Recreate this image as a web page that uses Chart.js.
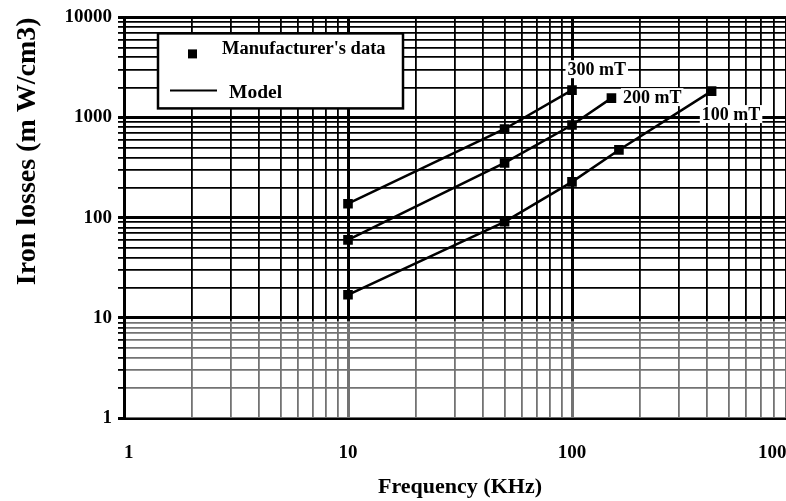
<!DOCTYPE html>
<html>
<head>
<meta charset="utf-8">
<title>Iron losses</title>
<script src="https://cdn.jsdelivr.net/npm/chart.js@4.4.1/dist/chart.umd.min.js"></script>
<style>
html, body { margin: 0; padding: 0; background: #fff; overflow: hidden; }
#area { width: 840px; height: 501px; }
</style>
</head>
<body>
<div id="area"><canvas id="meuGrafico" width="840" height="501"></canvas></div>
<script>
// Dados (frequência em KHz, perdas em mW/cm3)
var freq300 = [10, 50, 100];
var perdas300 = [138, 769, 1878];
var freq200 = [10, 50, 100, 150];
var perdas200 = [60, 352, 842, 1563];
var freq100 = [10, 50, 100, 162, 420];
var perdas100 = [17, 91, 228, 475, 1835];

// Rótulos das curvas e onde ficam (em coordenadas dos dados)
var rotulos = ['300 mT', '200 mT', '100 mT'];
var rotulosX = [129, 228, 513];
var rotulosY = [3040, 1600, 1083];

// Décadas dos eixos
var decadasX = [1, 10, 100, 1000];
var decadasY = [1, 10, 100, 1000, 10000];

var fonte = "'Liberation Serif', 'Times New Roman', serif";

// Junta x e y em pontos
function montarPontos(xs, ys) {
    return xs.map(function(x, i) {
        return { x: x, y: ys[i] };
    });
}

// Gera os ticks 1,2,...,9,10,20,... entre as décadas
function gerarTicks(decadas) {
    var ticks = [];
    for (var d = 0; d < decadas.length - 1; d++) {
        for (var k = 1; k < 10; k++) {
            ticks.push({ value: decadas[d] * k });
        }
    }
    ticks.push({ value: decadas[decadas.length - 1] });
    return ticks;
}

function eDecada(v) {
    var l = Math.log10(v);
    return Math.abs(l - Math.round(l)) < 1e-9;
}

function larguraGrade(ctx) {
    if (!ctx.tick) return 1.8;
    return eDecada(ctx.tick.value) ? 3 : 1.8;
}

// Plugin para o fundo clareado, os rótulos das curvas e a legenda
var pluginExtras = {
    id: 'extras',
    beforeDatasetsDraw: function(chart) {
        var c = chart.ctx;
        var a = chart.chartArea;
        var y10 = chart.scales.y.getPixelForValue(10);
        c.save();
        c.fillStyle = 'rgba(255,255,255,0.45)';
        c.fillRect(a.left + 2, y10 + 3, a.right - a.left, a.bottom - y10 - 3);
        c.restore();
    },
    afterDatasetsDraw: function(chart) {
        var c = chart.ctx;
        var sx = chart.scales.x;
        var sy = chart.scales.y;
        var a = chart.chartArea;
        c.save();
        c.font = 'bold 18px ' + fonte;
        c.textAlign = 'center';
        c.textBaseline = 'middle';
        for (var i = 0; i < rotulos.length; i++) {
            var px = sx.getPixelForValue(rotulosX[i]);
            var py = sy.getPixelForValue(rotulosY[i]);
            var w = c.measureText(rotulos[i]).width;
            c.fillStyle = '#fff';
            c.fillRect(px - w / 2 - 2, py - 9, w + 4, 18);
            c.fillStyle = '#000';
            c.fillText(rotulos[i], px, py + 1);
        }

        // Legenda dentro da área do gráfico
        var lx = a.left + 34;
        var ly = a.top + 16;
        c.fillStyle = '#fff';
        c.fillRect(lx, ly, 245, 75);
        c.strokeStyle = '#000';
        c.lineWidth = 2.5;
        c.strokeRect(lx, ly, 245, 75);
        c.fillStyle = '#000';
        c.fillRect(lx + 30, ly + 16, 9, 9);
        c.lineWidth = 2;
        c.beginPath();
        c.moveTo(lx + 12, ly + 57);
        c.lineTo(lx + 59, ly + 57);
        c.stroke();
        c.font = 'bold 18.5px ' + fonte;
        c.textAlign = 'left';
        c.fillText("Manufacturer's data", lx + 64, ly + 16);
        c.font = 'bold 19.5px ' + fonte;
        c.fillText('Model', lx + 71, ly + 60);
        c.restore();
    }
};

function criarEixo(decadas, titulo) {
    return {
        type: 'logarithmic',
        min: decadas[0],
        max: decadas[decadas.length - 1],
        afterBuildTicks: function(scale) {
            scale.ticks = gerarTicks(decadas);
        },
        ticks: {
            autoSkip: false,
            maxRotation: 0,
            color: '#000',
            font: { family: fonte, size: 19, weight: 'bold' },
            callback: function(valor) {
                return eDecada(valor) ? String(Math.round(valor)) : '';
            }
        },
        grid: {
            color: '#000',
            lineWidth: larguraGrade
        },
        border: { display: true, color: '#000', width: 2 },
        title: {
            display: true,
            text: titulo,
            color: '#000',
            font: { family: fonte, weight: 'bold' }
        }
    };
}

var eixoX = criarEixo(decadasX, 'Frequency (KHz)');
eixoX.ticks.padding = 24;
eixoX.ticks.align = 'inner';
eixoX.grid.drawTicks = false;
eixoX.title.font.size = 22;
eixoX.title.padding = { top: 0, bottom: 0 };
eixoX.afterFit = function(scale) { scale.height = 83; };

var eixoY = criarEixo(decadasY, 'Iron losses (m W/cm3)');
eixoY.ticks.padding = 6;
eixoY.grid.tickLength = 6;
eixoY.title.font.size = 28;
eixoY.title.align = 'end';
eixoY.title.padding = { top: 11, bottom: 0 };
eixoY.afterFit = function(scale) { scale.width = 124; };

var estiloLinha = { showLine: true, borderColor: '#000', borderWidth: 2.5, pointRadius: 0, pointHoverRadius: 0, fill: false };
var estiloPonto = { showLine: false, pointStyle: 'rect', pointRadius: 6.8, pointBackgroundColor: '#000', pointBorderColor: '#000', pointBorderWidth: 0 };

function serie(rotulo, xs, ys, estilo) {
    return Object.assign({ label: rotulo, data: montarPontos(xs, ys) }, estilo);
}

var configuracao = {
    type: 'scatter',
    data: {
        datasets: [
            serie('Model 300 mT', freq300, perdas300, estiloLinha),
            serie('Model 200 mT', freq200, perdas200, estiloLinha),
            serie('Model 100 mT', freq100, perdas100, estiloLinha),
            serie("Manufacturer's data 300 mT", freq300, perdas300, estiloPonto),
            serie("Manufacturer's data 200 mT", freq200, perdas200, estiloPonto),
            serie("Manufacturer's data 100 mT", freq100, perdas100, estiloPonto)
        ]
    },
    options: {
        responsive: false,
        animation: false,
        devicePixelRatio: 1,
        layout: { padding: { left: 0, right: 44, top: 16, bottom: 0 } },
        plugins: {
            legend: { display: false },
            tooltip: { enabled: false }
        },
        scales: { x: eixoX, y: eixoY }
    },
    plugins: [pluginExtras]
};

var meuGrafico = new Chart(document.getElementById('meuGrafico').getContext('2d'), configuracao);
</script>
</body>
</html>
